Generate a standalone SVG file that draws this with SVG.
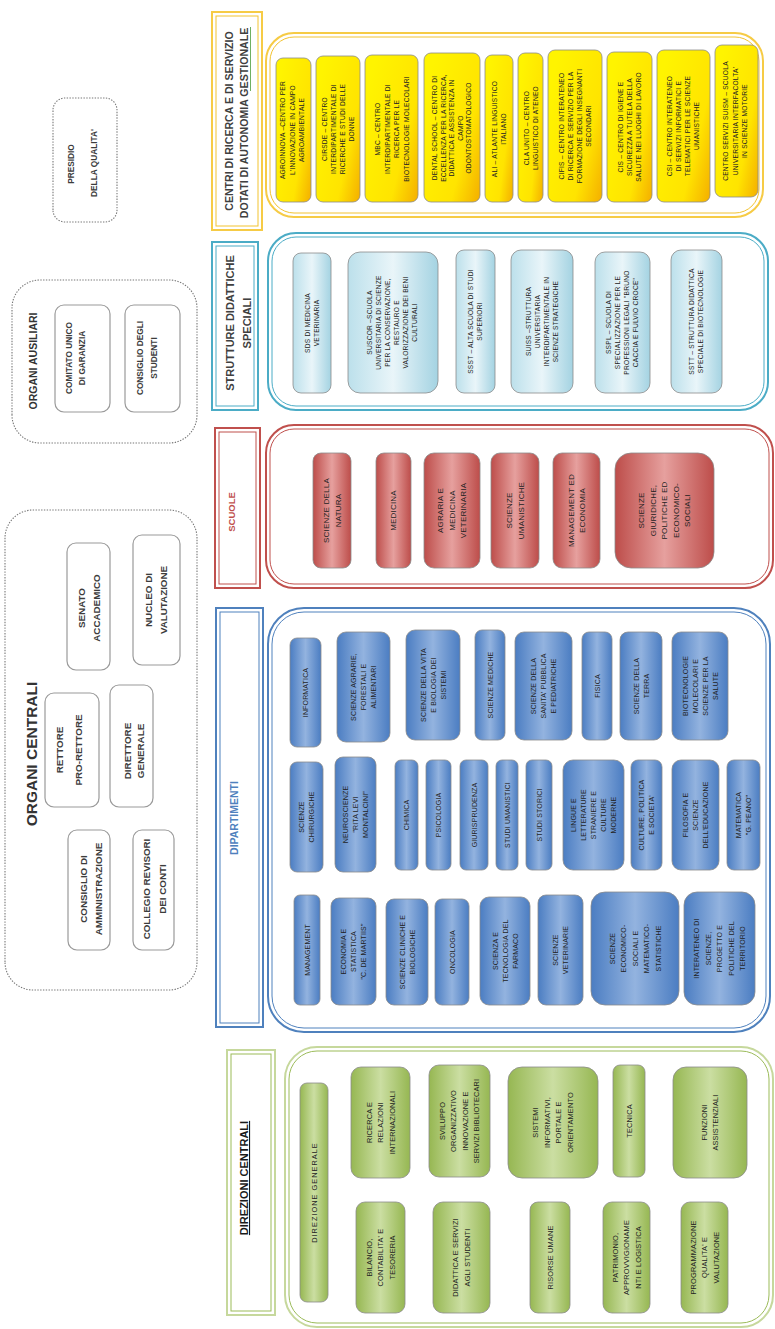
<svg xmlns="http://www.w3.org/2000/svg" width="775" height="1329" viewBox="0 0 775 1329">
<defs>
<linearGradient id="gY" x1="0" y1="1" x2="0.7" y2="0">
<stop offset="0" stop-color="#F4AE00"/><stop offset="0.35" stop-color="#FFE400"/><stop offset="1" stop-color="#FFF400"/>
</linearGradient>
<linearGradient id="gT" x1="0" y1="0" x2="0" y2="1">
<stop offset="0" stop-color="#BCE0EB"/><stop offset="0.5" stop-color="#E9F5F9"/><stop offset="1" stop-color="#A4D3E2"/>
</linearGradient>
<linearGradient id="gR" x1="0" y1="0" x2="0" y2="1">
<stop offset="0" stop-color="#BD4D4A"/><stop offset="0.5" stop-color="#E6A09E"/><stop offset="1" stop-color="#BD4D4A"/>
</linearGradient>
<linearGradient id="gB" x1="0" y1="0" x2="0" y2="1">
<stop offset="0" stop-color="#4B7DC2"/><stop offset="0.5" stop-color="#93B3DF"/><stop offset="1" stop-color="#4B7DC2"/>
</linearGradient>
<linearGradient id="gG" x1="0" y1="0" x2="0" y2="1">
<stop offset="0" stop-color="#96B752"/><stop offset="0.5" stop-color="#CBDEA2"/><stop offset="1" stop-color="#96B752"/>
</linearGradient>
<style>
text{font-family:"Liberation Sans",Arial,sans-serif;text-anchor:middle}
.box{stroke:#8a8a8a;stroke-width:0.8}
.ny{fill:url(#gY)}
.nt{fill:url(#gT)}
.nr{fill:url(#gR)}
.nb{fill:url(#gB)}
.ng{fill:url(#gG)}
.ts{font-size:6.6px;fill:#222;letter-spacing:0.25px}
.tr{font-size:8px;fill:#222;letter-spacing:0.2px}
.tb{font-size:7px;fill:#1f1f1f;letter-spacing:0.15px}
.tg{font-size:7.4px;fill:#222;letter-spacing:0.15px}
.org{fill:#fff;stroke:#9a9a9a;stroke-width:1.2}
.ot{font-size:9.8px;font-weight:bold;fill:#3c3c3c}
.ot2{font-size:8.3px;font-weight:bold;fill:#3c3c3c}
.dot{fill:#fff;stroke:#777;stroke-width:1.1;stroke-dasharray:1.4 1.4}
.ht{font-size:10.6px;font-weight:bold;fill:#404040}
</style>
</defs>
<rect width="775" height="1329" fill="#ffffff"/>
<g transform="translate(0,1329) rotate(-90)">

<!-- ORGANI CENTRALI -->
<g id="organi-centrali">
<rect class="dot" x="339" y="5" width="480" height="192" rx="28"/>
<text x="575" y="37" style="font-size:15.5px;font-weight:bold;fill:#333">ORGANI CENTRALI</text>
<g id="rettore"><rect class="org" x="522" y="45" width="114" height="54" rx="9"/><text class="ot"><tspan x="579" y="63">RETTORE</tspan><tspan x="579" y="82">PRO-RETTORE</tspan></text></g>
<g id="direttore"><rect class="org" x="522" y="110" width="122" height="43" rx="9"/><text class="ot"><tspan x="578" y="131">DIRETTORE</tspan><tspan x="578" y="144">GENERALE</tspan></text></g>
<g id="cda"><rect class="org" x="379" y="68" width="120" height="42" rx="9"/><text class="ot"><tspan x="440" y="87">CONSIGLIO DI</tspan><tspan x="440" y="102">AMMINISTRAZIONE</tspan></text></g>
<g id="revisori"><rect class="org" x="379" y="133" width="120" height="41" rx="9"/><text class="ot"><tspan x="440" y="150">COLLEGIO REVISORI</tspan><tspan x="440" y="166">DEI CONTI</tspan></text></g>
<g id="senato"><rect class="org" x="659" y="67" width="127" height="43" rx="9"/><text class="ot"><tspan x="721" y="85">SENATO</tspan><tspan x="721" y="100">ACCADEMICO</tspan></text></g>
<g id="nucleo"><rect class="org" x="664" y="133" width="130" height="47" rx="9"/><text class="ot"><tspan x="729" y="152">NUCLEO DI</tspan><tspan x="729" y="167">VALUTAZIONE</tspan></text></g>
</g>

<!-- ORGANI AUSILIARI -->
<g id="organi-ausiliari">
<rect class="dot" x="886" y="12" width="163" height="185" rx="28"/>
<text x="968" y="37" style="font-size:10.5px;font-weight:bold;fill:#333">ORGANI AUSILIARI</text>
<g id="cug"><rect class="org" x="917" y="55" width="107" height="55" rx="9"/><text class="ot2"><tspan x="971" y="72">COMITATO  UNICO</tspan><tspan x="971" y="85">DI GARANZIA</tspan></text></g>
<g id="studenti"><rect class="org" x="917" y="125" width="107" height="55" rx="9"/><text class="ot2"><tspan x="971" y="143">CONSIGLIO  DEGLI</tspan><tspan x="971" y="157">STUDENTI</tspan></text></g>
</g>

<g id="presidio"><rect class="dot" x="1107" y="53" width="124" height="64" rx="12"/><text class="ot2"><tspan x="1165" y="74">PRESIDIO</tspan><tspan x="1166" y="97">DELLA QUALITA'</tspan></text></g>

<!-- HEADERS -->
<g id="h-centri">
<rect x="1099" y="212" width="218" height="50" fill="#fff" stroke="#F6CB45" stroke-width="2"/>
<rect x="1103" y="216" width="210" height="42" fill="none" stroke="#F2C330" stroke-width="1"/>
<text class="ht"><tspan x="1208" y="233">CENTRI DI RICERCA E DI SERVIZIO</tspan><tspan x="1206" y="248">DOTATI DI  AUTONOMIA GESTIONALE</tspan></text>
<path d="M1238 250.5 h64" stroke="#4a9a3a" stroke-width="0.8" fill="none"/>
</g>
<g id="h-strutture">
<rect x="919" y="212" width="168" height="46" fill="#fff" stroke="#4BACC6" stroke-width="2"/>
<rect x="923" y="216" width="160" height="38" fill="none" stroke="#4BACC6" stroke-width="1"/>
<text class="ht" style="font-size:11px"><tspan x="1006" y="234">STRUTTURE DIDATTICHE</tspan><tspan x="1006" y="251">SPECIALI</tspan></text>
</g>
<g id="h-scuole">
<rect x="741" y="215" width="160" height="45" fill="#fff" stroke="#C0504D" stroke-width="2"/>
<rect x="745" y="219" width="152" height="37" fill="none" stroke="#C0504D" stroke-width="1"/>
<text x="817" y="235" style="font-size:9.5px;font-weight:bold;fill:#C0504D">SCUOLE</text>
</g>
<g id="h-dipartimenti">
<rect x="302" y="216" width="419" height="47" fill="#fff" stroke="#4F81BD" stroke-width="2"/>
<rect x="306" y="220" width="411" height="39" fill="none" stroke="#4F81BD" stroke-width="1"/>
<text x="511" y="238" style="font-size:10.5px;font-weight:bold;fill:#4F81BD">DIPARTIMENTI</text>
</g>
<g id="h-direzioni">
<rect x="14" y="227" width="265" height="48" fill="#fff" stroke="#C6D89C" stroke-width="2"/>
<rect x="18" y="231" width="257" height="40" fill="none" stroke="#9BBB59" stroke-width="1"/>
<text x="151" y="248" style="font-size:11px;font-weight:bold;fill:#1a1a1a;text-decoration:underline">DIREZIONI CENTRALI</text>
</g>

<!-- CONTAINERS -->
<g id="c-centri"><rect x="1112" y="266" width="184" height="497" rx="28" fill="#fff" stroke="#F6CB45" stroke-width="2"/><rect x="1116" y="270" width="176" height="489" rx="24" fill="none" stroke="#F2C330" stroke-width="1"/></g>
<g id="c-strutture"><rect x="919" y="268" width="177" height="500" rx="28" fill="#fff" stroke="#4BACC6" stroke-width="2"/><rect x="923" y="272" width="169" height="492" rx="24" fill="none" stroke="#4BACC6" stroke-width="1"/></g>
<g id="c-scuole"><rect x="741" y="266" width="163" height="507" rx="28" fill="#fff" stroke="#C0504D" stroke-width="2"/><rect x="745" y="270" width="155" height="499" rx="24" fill="none" stroke="#C0504D" stroke-width="1"/></g>
<g id="c-dipartimenti"><rect x="297" y="268" width="424" height="502" rx="36" fill="#fff" stroke="#4F81BD" stroke-width="2"/><rect x="301" y="272" width="416" height="494" rx="32" fill="none" stroke="#4F81BD" stroke-width="1"/></g>
<g id="c-direzioni"><rect x="2" y="285" width="280" height="488" rx="32" fill="#fff" stroke="#C6D89C" stroke-width="2"/><rect x="6" y="289" width="272" height="480" rx="28" fill="none" stroke="#9BBB59" stroke-width="1"/></g>

<g id="connectors"/>

<!-- CENTRI ITEMS -->
<g id="agroinnova"><rect class="box ny" x="1127" y="276" width="144" height="35" rx="7"/><text class="ts"><tspan x="1199" y="285">AGROINNOVA –CENTRO PER</tspan><tspan x="1199" dy="9.5">L'INNOVAZIONE IN CAMPO</tspan><tspan x="1199" dy="9.5">AGROAMBIENTALE</tspan></text></g>
<g id="cirsde"><rect class="box ny" x="1127" y="316" width="146" height="44" rx="7"/><text class="ts"><tspan x="1200" y="327">CIRSDE – CENTRO</tspan><tspan x="1200" dy="9">INTERDIPARTIMENTALE DI</tspan><tspan x="1200" dy="9">RICERCHE E STUDI DELLE</tspan><tspan x="1200" dy="9">DONNE</tspan></text></g>
<g id="mbc"><rect class="box ny" x="1127" y="365" width="147" height="53" rx="7"/><text class="ts"><tspan x="1200" y="380">MBC – CENTRO</tspan><tspan x="1200" dy="9.5">INTERDIPARTIMENTALE DI</tspan><tspan x="1200" dy="9.5">RICERCA PER LE</tspan><tspan x="1200" dy="9.5">BIOTECNOLOGIE MOLECOLARI</tspan></text></g>
<g id="dental"><rect class="box ny" x="1127" y="424" width="149" height="56" rx="7"/><text class="ts"><tspan x="1201" y="437">DENTAL SCHOOL – CENTRO DI</tspan><tspan x="1201" dy="8.5">ECCELLENZA PER LA RICERCA,</tspan><tspan x="1201" dy="8.5">DIDATTICA E ASSISTENZA IN</tspan><tspan x="1201" dy="8.5">CAMPO</tspan><tspan x="1201" dy="8.5">ODONTOSTOMATOLOGICO</tspan></text></g>
<g id="ali"><rect class="box ny" x="1127" y="485" width="147" height="28" rx="7"/><text class="ts"><tspan x="1200" y="497">ALI – ATLANTE LINGUISTICO</tspan><tspan x="1200" dy="9">ITALIANO</tspan></text></g>
<g id="cla"><rect class="box ny" x="1127" y="518" width="149" height="25" rx="7"/><text class="ts"><tspan x="1201" y="529">CLA UNITO – CENTRO</tspan><tspan x="1201" dy="8.5">LINGUISTICO DI ATENEO</tspan></text></g>
<g id="cifis"><rect class="box ny" x="1127" y="548" width="152" height="54" rx="7"/><text class="ts"><tspan x="1203" y="564">CIFIS – CENTRO INTERATENEO</tspan><tspan x="1203" dy="9">DI RICERCA E SERVIZIO PER LA</tspan><tspan x="1203" dy="9">FORMAZIONE DEGLI INSEGNANTI</tspan><tspan x="1203" dy="9">SECONDARI</tspan></text></g>
<g id="cis"><rect class="box ny" x="1127" y="607" width="150" height="45" rx="7"/><text class="ts"><tspan x="1202" y="623">CIS – CENTRO DI IGIENE E</tspan><tspan x="1202" dy="9">SICUREZZA A TUTELA DELLA</tspan><tspan x="1202" dy="9">SALUTE NEI LUOGHI DI LAVORO</tspan></text></g>
<g id="csi"><rect class="box ny" x="1127" y="657" width="152" height="53" rx="7"/><text class="ts"><tspan x="1203" y="672">CSI – CENTRO INTERATENEO</tspan><tspan x="1203" dy="9">DI SERVIZI INFORMATICI E</tspan><tspan x="1203" dy="9">TELEMATICI PER LE SCIENZE</tspan><tspan x="1203" dy="9">UMANISTICHE</tspan></text></g>
<g id="suism"><rect class="box ny" x="1132" y="715" width="152" height="43" rx="7"/><text class="ts"><tspan x="1208" y="728">CENTRO SERVIZI SUISM – SCUOLA</tspan><tspan x="1208" dy="9.5">UNIVERSITARIA INTERFACOLTA'</tspan><tspan x="1208" dy="9.5">IN SCIENZE MOTORIE</tspan></text></g>

<!-- STRUTTURE ITEMS -->
<g id="sds"><rect class="box nt" x="936" y="293" width="140" height="38" rx="8"/><text class="ts"><tspan x="1006" y="310">SDS DI MEDICINA</tspan><tspan x="1006" dy="9">VETERINARIA</tspan></text></g>
<g id="suscor"><rect class="box nt" x="936" y="348" width="141" height="90" rx="12"/><text class="ts"><tspan x="1006.5" y="372">SUSCOR –SCUOLA</tspan><tspan x="1006.5" dy="9">UNIVERSITARIA DI SCIENZE</tspan><tspan x="1006.5" dy="9">PER LA CONSERVAZIONE,</tspan><tspan x="1006.5" dy="9">RESTAURO E</tspan><tspan x="1006.5" dy="9">VALORIZZAZIONE DEI BENI</tspan><tspan x="1006.5" dy="9">CULTURALI</tspan></text></g>
<g id="ssst"><rect class="box nt" x="936" y="456" width="143" height="39" rx="8"/><text class="ts"><tspan x="1007.5" y="473">SSST – ALTA SCUOLA DI STUDI</tspan><tspan x="1007.5" dy="9">SUPERIORI</tspan></text></g>
<g id="suiss"><rect class="box nt" x="936" y="511" width="143" height="62" rx="10"/><text class="ts"><tspan x="1007.5" y="531">SUISS –STRUTTURA</tspan><tspan x="1007.5" dy="9">UNIVERSITARIA</tspan><tspan x="1007.5" dy="9">INTERDIPARTIMENTALE IN</tspan><tspan x="1007.5" dy="9">SCIENZE STRATEGICHE</tspan></text></g>
<g id="sspl"><rect class="box nt" x="936" y="595" width="141" height="55" rx="10"/><text class="ts"><tspan x="1006.5" y="611">SSPL – SCUOLA DI</tspan><tspan x="1006.5" dy="9">SPECIALIZZAZIONE PER LE</tspan><tspan x="1006.5" dy="9">PROFESSIONI LEGALI "BRUNO</tspan><tspan x="1006.5" dy="9">CACCIA E FULVIO CROCE"</tspan></text></g>
<g id="sdsb"><rect class="box nt" x="936" y="671" width="143" height="51" rx="10"/><text class="ts"><tspan x="1007.5" y="694">SSTT – STRUTTURA DIDATTICA</tspan><tspan x="1007.5" dy="9">SPECIALE DI BIOTECNOLOGIE</tspan></text></g>

<!-- SCUOLE ITEMS -->
<g id="s-natura"><rect class="box nr" x="761" y="313" width="115" height="38" rx="8"/><text class="tr"><tspan x="818.5" y="329">SCIENZE DELLA</tspan><tspan x="818.5" dy="11.5">NATURA</tspan></text></g>
<g id="s-medicina"><rect class="box nr" x="761" y="376" width="115" height="35" rx="8"/><text class="tr" x="818.5" y="396.3">MEDICINA</text></g>
<g id="s-agraria"><rect class="box nr" x="761" y="424" width="115" height="56" rx="10"/><text class="tr"><tspan x="818.5" y="443.3">AGRARIA E</tspan><tspan x="818.5" dy="11.5">MEDICINA</tspan><tspan x="818.5" dy="11.5">VETERINARIA</tspan></text></g>
<g id="s-umanistiche"><rect class="box nr" x="761" y="491" width="115" height="48" rx="9"/><text class="tr"><tspan x="818.5" y="512">SCIENZE</tspan><tspan x="818.5" dy="11.5">UMANISTICHE</tspan></text></g>
<g id="s-management"><rect class="box nr" x="761" y="553" width="115" height="47" rx="9"/><text class="tr"><tspan x="818.5" y="573.5">MANAGEMENT ED</tspan><tspan x="818.5" dy="11.5">ECONOMIA</tspan></text></g>
<g id="s-giuridiche"><rect class="box nr" x="761" y="615" width="115" height="99" rx="16"/><text class="tr"><tspan x="818.5" y="644.3">SCIENZE</tspan><tspan x="818.5" dy="11.5">GIURIDICHE,</tspan><tspan x="818.5" dy="11.5">POLITICHE ED</tspan><tspan x="818.5" dy="11.5">ECONOMICO-</tspan><tspan x="818.5" dy="11.5">SOCIALI</tspan></text></g>

<!-- DIPARTIMENTI ITEMS -->
<g id="d-informatica"><rect class="box nb" x="582" y="290" width="109" height="31" rx="7"/><text class="tb" x="636.5" y="308">INFORMATICA</text></g>
<g id="d-agrarie"><rect class="box nb" x="587" y="337" width="110" height="53" rx="9"/><text class="tb"><tspan x="642" y="356">SCIENZE AGRARIE,</tspan><tspan x="642" dy="10">FORESTALI E</tspan><tspan x="642" dy="10">ALIMENTARI</tspan></text></g>
<g id="d-vita"><rect class="box nb" x="589" y="406" width="110" height="54" rx="9"/><text class="tb"><tspan x="644" y="425.5">SCIENZE DELLA VITA</tspan><tspan x="644" dy="10">E BIOLOGIA DEI</tspan><tspan x="644" dy="10">SISTEMI</tspan></text></g>
<g id="d-mediche"><rect class="box nb" x="589" y="475" width="110" height="30" rx="7"/><text class="tb" x="644" y="492.5">SCIENZE MEDICHE</text></g>
<g id="d-sanita"><rect class="box nb" x="589" y="515" width="108" height="57" rx="9"/><text class="tb"><tspan x="643" y="536">SCIENZE DELLA</tspan><tspan x="643" dy="10">SANITA' PUBBLICA</tspan><tspan x="643" dy="10">E PEDIATRICHE</tspan></text></g>
<g id="d-fisica"><rect class="box nb" x="589" y="582" width="108" height="30" rx="7"/><text class="tb" x="643" y="599.5">FISICA</text></g>
<g id="d-terra"><rect class="box nb" x="589" y="620" width="108" height="42" rx="8"/><text class="tb"><tspan x="643" y="638.5">SCIENZE DELLA</tspan><tspan x="643" dy="10">TERRA</tspan></text></g>
<g id="d-biotec"><rect class="box nb" x="589" y="672" width="108" height="56" rx="9"/><text class="tb"><tspan x="643" y="687.5">BIOTECNOLOGIE</tspan><tspan x="643" dy="10">MOLECOLARI E</tspan><tspan x="643" dy="10">SCIENZE PER LA</tspan><tspan x="643" dy="10">SALUTE</tspan></text></g>

<g id="d-chirurgiche"><rect class="box nb" x="457" y="290" width="110" height="33" rx="7"/><text class="tb"><tspan x="512" y="304">SCIENZE</tspan><tspan x="512" dy="10">CHIRURGICHE</tspan></text></g>
<g id="d-neuro"><rect class="box nb" x="457" y="335" width="115" height="41" rx="8"/><text class="tb"><tspan x="514.5" y="348">NEUROSCIENZE</tspan><tspan x="514.5" dy="10">"RITA LEVI</tspan><tspan x="514.5" dy="10">MONTALCINI"</tspan></text></g>
<g id="d-chimica"><rect class="box nb" x="459" y="395" width="110" height="23" rx="6"/><text class="tb" x="514" y="409">CHIMICA</text></g>
<g id="d-psicologia"><rect class="box nb" x="459" y="426" width="110" height="25" rx="6"/><text class="tb" x="514" y="441">PSICOLOGIA</text></g>
<g id="d-giuris"><rect class="box nb" x="459" y="460" width="110" height="28" rx="6"/><text class="tb" x="514" y="476.5">GIURISPRUDENZA</text></g>
<g id="d-umanistici"><rect class="box nb" x="459" y="496" width="110" height="22" rx="6"/><text class="tb" x="514" y="509.5">STUDI UMANISTICI</text></g>
<g id="d-storici"><rect class="box nb" x="459" y="526" width="110" height="26" rx="6"/><text class="tb" x="514" y="541.5">STUDI STORICI</text></g>
<g id="d-lingue"><rect class="box nb" x="459" y="563" width="110" height="61" rx="10"/><text class="tb"><tspan x="514" y="576">LINGUE E</tspan><tspan x="514" dy="10">LETTERATURE</tspan><tspan x="514" dy="10">STRANIERE E</tspan><tspan x="514" dy="10">CULTURE</tspan><tspan x="514" dy="10">MODERNE</tspan></text></g>
<g id="d-culture"><rect class="box nb" x="459" y="631" width="110" height="31" rx="7"/><text class="tb"><tspan x="514" y="644">CULTURE, POLITICA</tspan><tspan x="514" dy="10">E SOCIETA'</tspan></text></g>
<g id="d-filosofia"><rect class="box nb" x="459" y="672" width="110" height="47" rx="9"/><text class="tb"><tspan x="514" y="688">FILOSOFIA E</tspan><tspan x="514" dy="10">SCIENZE</tspan><tspan x="514" dy="10">DELL'EDUCAZIONE</tspan></text></g>
<g id="d-matematica"><rect class="box nb" x="459" y="727" width="110" height="33" rx="7"/><text class="tb"><tspan x="514" y="741">MATEMATICA</tspan><tspan x="514" dy="10">"G. PEANO"</tspan></text></g>

<g id="d-management"><rect class="box nb" x="324" y="294" width="110" height="26" rx="6"/><text class="tb" x="379" y="309.5">MANAGEMENT</text></g>
<g id="d-economia"><rect class="box nb" x="324" y="331" width="107" height="45" rx="8"/><text class="tb"><tspan x="377.5" y="346">ECONOMIA E</tspan><tspan x="377.5" dy="10">STATISTICA</tspan><tspan x="377.5" dy="10">"C. DE MARTIIS"</tspan></text></g>
<g id="d-cliniche"><rect class="box nb" x="324" y="386" width="106" height="42" rx="8"/><text class="tb"><tspan x="377" y="404.5">SCIENZE CLINICHE E</tspan><tspan x="377" dy="10">BIOLOGICHE</tspan></text></g>
<g id="d-oncologia"><rect class="box nb" x="324" y="435" width="106" height="34" rx="7"/><text class="tb" x="377" y="454.5">ONCOLOGIA</text></g>
<g id="d-farmaco"><rect class="box nb" x="324" y="480" width="108" height="50" rx="9"/><text class="tb"><tspan x="378" y="497.5">SCIENZA E</tspan><tspan x="378" dy="10">TECNOLOGIA DEL</tspan><tspan x="378" dy="10">FARMACO</tspan></text></g>
<g id="d-veterinarie"><rect class="box nb" x="324" y="538" width="110" height="45" rx="8"/><text class="tb"><tspan x="379" y="558">SCIENZE</tspan><tspan x="379" dy="10">VETERINARIE</tspan></text></g>
<g id="d-esomas"><rect class="box nb" x="324" y="591" width="113" height="88" rx="14"/><text class="tb"><tspan x="380.5" y="614.5">SCIENZE</tspan><tspan x="380.5" dy="11.5">ECONOMICO-</tspan><tspan x="380.5" dy="11.5">SOCIALI E</tspan><tspan x="380.5" dy="11.5">MATEMATICO-</tspan><tspan x="380.5" dy="11.5">STATISTICHE</tspan></text></g>
<g id="d-interateneo"><rect class="box nb" x="324" y="684" width="113" height="71" rx="13"/><text class="tb"><tspan x="380.5" y="699">INTERATENEO DI</tspan><tspan x="380.5" dy="11.5">SCIENZE,</tspan><tspan x="380.5" dy="11.5">PROGETTO E</tspan><tspan x="380.5" dy="11.5">POLITICHE DEL</tspan><tspan x="380.5" dy="11.5">TERRITORIO</tspan></text></g>

<!-- DIREZIONI ITEMS -->
<g id="g-direzione"><rect class="box ng" x="27" y="300" width="219" height="28" rx="7"/><text class="tg" x="136.5" y="316.6" style="letter-spacing:1px">DIREZIONE GENERALE</text></g>
<g id="g-ricerca"><rect class="box ng" x="151" y="351" width="111" height="59" rx="10"/><text class="tg"><tspan x="206.5" y="371.6">RICERCA E</tspan><tspan x="206.5" dy="11.5">RELAZIONI</tspan><tspan x="206.5" dy="11.5">INTERNAZIONALI</tspan></text></g>
<g id="g-bilancio"><rect class="box ng" x="16" y="356" width="111" height="49" rx="9"/><text class="tg"><tspan x="71.5" y="371.6">BILANCIO,</tspan><tspan x="71.5" dy="11.5">CONTABILITA' E</tspan><tspan x="71.5" dy="11.5">TESORERIA</tspan></text></g>
<g id="g-sviluppo"><rect class="box ng" x="152" y="429" width="112" height="61" rx="10"/><text class="tg"><tspan x="208" y="444.9">SVILUPPO</tspan><tspan x="208" dy="11.5">ORGANIZZATIVO</tspan><tspan x="208" dy="11.5">INNOVAZIONE E</tspan><tspan x="208" dy="11.5">SERVIZI BIBLIOTECARI</tspan></text></g>
<g id="g-didattica"><rect class="box ng" x="16" y="433" width="111" height="57" rx="10"/><text class="tg"><tspan x="71.5" y="458.3">DIDATTICA E SERVIZI</tspan><tspan x="71.5" dy="11.5">AGLI STUDENTI</tspan></text></g>
<g id="g-sistemi"><rect class="box ng" x="151" y="508" width="111" height="90" rx="14"/><text class="tg"><tspan x="206.5" y="538.4">SISTEMI</tspan><tspan x="206.5" dy="11.5">INFORMATIVI,</tspan><tspan x="206.5" dy="11.5">PORTALE E</tspan><tspan x="206.5" dy="11.5">ORIENTAMENTO</tspan></text></g>
<g id="g-risorse"><rect class="box ng" x="16" y="530" width="111" height="40" rx="8"/><text class="tg" x="71.5" y="552.6">RISORSE UMANE</text></g>
<g id="g-tecnica"><rect class="box ng" x="152" y="613" width="112" height="32" rx="7"/><text class="tg" x="208" y="631.6">TECNICA</text></g>
<g id="g-patrimonio"><rect class="box ng" x="16" y="603" width="111" height="47" rx="9"/><text class="tg"><tspan x="71.5" y="617.6">PATRIMONIO,</tspan><tspan x="71.5" dy="11.5">APPROVVIGIONAME</tspan><tspan x="71.5" dy="11.5">NTI E LOGISTICA</tspan></text></g>
<g id="g-funzioni"><rect class="box ng" x="151" y="673" width="111" height="74" rx="13"/><text class="tg"><tspan x="206.5" y="706.9">FUNZIONI</tspan><tspan x="206.5" dy="11.5">ASSISTENZIALI</tspan></text></g>
<g id="g-programmazione"><rect class="box ng" x="16" y="681" width="111" height="47" rx="9"/><text class="tg"><tspan x="71.5" y="695.6">PROGRAMMAZIONE</tspan><tspan x="71.5" dy="11.5">QUALITA' E</tspan><tspan x="71.5" dy="11.5">VALUTAZIONE</tspan></text></g>

</g>
</svg>
